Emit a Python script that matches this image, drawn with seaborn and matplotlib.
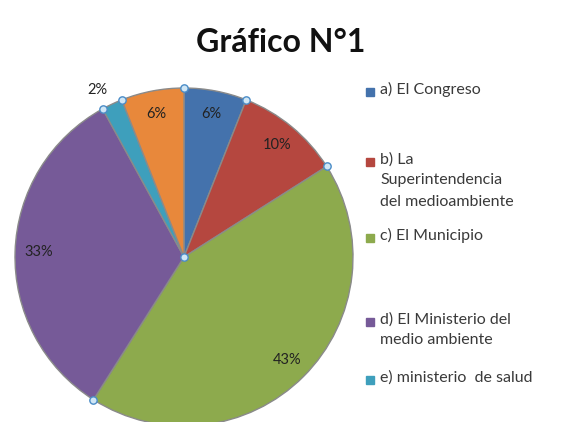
import numpy as np
import matplotlib
matplotlib.use("Agg")
import matplotlib.pyplot as plt
from matplotlib.patches import Rectangle
import seaborn as sns

# data
labels = ["a) El Congreso", "b) La\nSuperintendencia\ndel medioambiente", "c) El Municipio",
          "d) El Ministerio del\nmedio ambiente", "e) ministerio  de salud", ""]
values = [6, 10, 43, 33, 2, 6]
colors = ["#4472AC", "#B5473F", "#8DAA4D", "#765A98", "#3E9FBC", "#E8883B"]

sns.set_theme(style="white")
plt.rcParams["font.family"] = ["Lato", "DejaVu Sans"]

fig = plt.figure(figsize=(5.63, 4.22), dpi=100)
W, H = 563, 422
cx, cy, r = 184, 257, 169
ax = fig.add_axes([(cx - r) / W, (H - cy - r) / H, 2 * r / W, 2 * r / H])

wedges, texts, autotexts = ax.pie(
    values, colors=sns.color_palette(colors), startangle=90, counterclock=False,
    autopct="%d%%", pctdistance=0.86, radius=1,
    wedgeprops=dict(edgecolor="#8a8a8a", linewidth=1.0),
    textprops=dict(fontsize=10.5, color="#222222"))
ax.set_xlim(-1, 1)
ax.set_ylim(-1, 1)
ax.set_aspect("equal")
ax.axis("off")

# small slice label placed outside
autotexts[4].set_position((-0.51, 0.99))

# selection handles on the slice borders
edges = np.cumsum([0] + values)[:-1]
ang = np.deg2rad(90 - 360 * edges / sum(values))
px = np.append(np.cos(ang), 0)
py = np.append(np.sin(ang), 0)
ax.scatter(px, py, s=28, facecolor="#cfe6f5", edgecolor="#4a8cc7", linewidth=1.0,
           zorder=5, clip_on=False)

fig.text(281 / W, 1 - 42 / H, "Gráfico N°1", ha="center", va="center",
         fontsize=23, fontweight="bold", color="#111111")

# legend (first five slices only)
ly = [91, 161, 237, 321, 379]
for lab, col, y in zip(labels[:5], colors[:5], ly):
    fig.patches.append(Rectangle((366 / W, 1 - (y + 5) / H), 8 / W, 8 / H,
                                 transform=fig.transFigure, color=col))
    fig.text(380 / W, 1 - (y - 9) / H, lab, ha="left", va="top",
             fontsize=11.5, color="#3a3a3a", linespacing=1.65)

fig.savefig("out.png", dpi=100)
